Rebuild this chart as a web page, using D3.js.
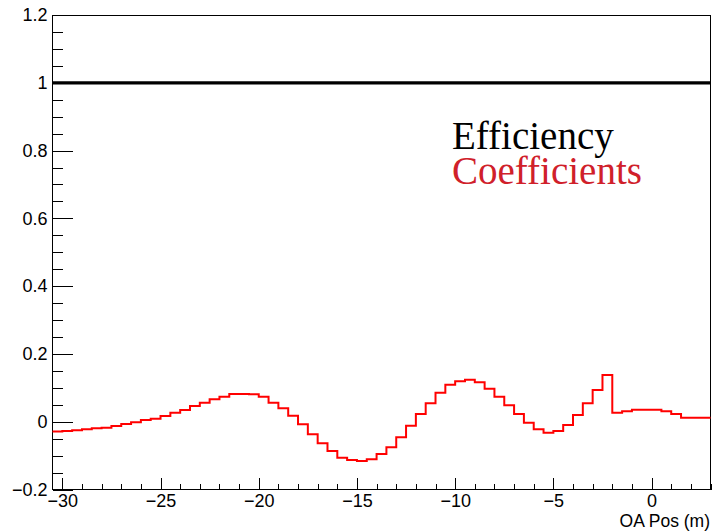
<!DOCTYPE html>
<html>
<head>
<meta charset="utf-8">
<script src="https://cdn.jsdelivr.net/npm/d3@7"></script>
<style>
  html, body { margin: 0; padding: 0; background: #fff; }
  svg { display: block; }
  .tick text { font-family: "Liberation Sans", Arial, sans-serif; font-size: 18px; fill: #000; }
</style>
</head>
<body>
<svg id="chart" width="712" height="531"></svg>
<script>
// ---- data ----
const binLow = -30.5;
const binWidth = 0.5;
const coefficients = [
  -0.029, -0.0275, -0.0255, -0.0225, -0.0196, -0.0176, -0.0127, -0.0068, -0.0019, 0.005,
  0.0089, 0.0168, 0.0266, 0.0345, 0.0463, 0.0561, 0.066, 0.0738, 0.0817, 0.0817,
  0.081, 0.0738, 0.0561, 0.0394, 0.0178, -0.0078, -0.0373, -0.0638, -0.0864, -0.106,
  -0.113, -0.116, -0.111, -0.0953, -0.0756, -0.0461, -0.0117, 0.0227, 0.0542, 0.0856,
  0.1092, 0.1191, 0.124, 0.1161, 0.0974, 0.0738, 0.0483, 0.0227, -0.0029, -0.0225,
  -0.0324, -0.0274, -0.0097, 0.0198, 0.0542, 0.0935, 0.1378, 0.0266, 0.0306, 0.0355,
  0.0355, 0.0355, 0.0306, 0.0227, 0.0119, 0.0119, 0.0119
];
const efficiency = coefficients.map(() => 1.0);
const xMajorTicks = [-30, -25, -20, -15, -10, -5, 0];
const xTickLabels = ["\u221230", "\u221225", "\u221220", "\u221215", "\u221210", "\u22125", "0"];
const yMajorTicks = [-0.2, 0, 0.2, 0.4, 0.6, 0.8, 1, 1.2];
const yTickLabels = ["\u22120.2", "0", "0.2", "0.4", "0.6", "0.8", "1", "1.2"];
const xTitle = "OA Pos (m)";
const legendLabels = ["Efficiency", "Coefficients"];

// ---- layout ----
const svg = d3.select("#chart");
const L = 52.5, R = 710.5, T = 15, B = 489.5;
const x = d3.scaleLinear().domain([-30.5, 3]).range([L, R]);
const y = d3.scaleLinear().domain([-0.2, 1.2]).range([B, T]);

// step path helper
function stepPath(vals) {
  const pts = [];
  vals.forEach((v, i) => {
    const x0 = binLow + i * binWidth, x1 = x0 + binWidth;
    pts.push([x(x0), y(v)], [x(x1), y(v)]);
  });
  return d3.line()(pts);
}

// frame
svg.append("rect")
  .attr("x", L).attr("y", T).attr("width", R - L).attr("height", B - T)
  .attr("fill", "none").attr("stroke", "#000").attr("stroke-width", 1)
  .attr("shape-rendering", "crispEdges");

// y axis
const yMinor = d3.range(-0.2, 1.2001, 0.05).map(v => +v.toFixed(2));
svg.append("g").attr("transform", `translate(${L},0)`)
  .call(d3.axisLeft(y).tickValues(yMinor).tickSize(-10).tickFormat(""))
  .call(g => g.select(".domain").remove())
  .call(g => g.selectAll("line").attr("stroke", "#000").attr("shape-rendering", "crispEdges"));
svg.append("g").attr("transform", `translate(${L},0)`)
  .call(d3.axisLeft(y).tickValues(yMajorTicks).tickSize(-20).tickPadding(5)
    .tickFormat((d, i) => yTickLabels[i]))
  .call(g => g.select(".domain").remove())
  .call(g => g.selectAll("line").attr("stroke", "#000").attr("shape-rendering", "crispEdges"));

// x axis
const xMinor = d3.range(-30, 3.001, 1);
svg.append("g").attr("transform", `translate(0,${B})`)
  .call(d3.axisBottom(x).tickValues(xMinor).tickSize(-6).tickFormat(""))
  .call(g => g.select(".domain").remove())
  .call(g => g.selectAll("line").attr("stroke", "#000").attr("shape-rendering", "crispEdges"));
svg.append("g").attr("transform", `translate(0,${B})`)
  .call(d3.axisBottom(x).tickValues(xMajorTicks).tickSize(-12).tickPadding(5)
    .tickFormat((d, i) => xTickLabels[i]))
  .call(g => g.select(".domain").remove())
  .call(g => g.selectAll("line").attr("stroke", "#000").attr("shape-rendering", "crispEdges"));

// x title
svg.append("text")
  .attr("x", 710).attr("y", 527)
  .attr("text-anchor", "end")
  .attr("font-family", "Liberation Sans, Arial, sans-serif")
  .attr("font-size", 17.5)
  .text(xTitle);

// efficiency (black)
svg.append("path")
  .attr("d", stepPath(efficiency))
  .attr("fill", "none").attr("stroke", "#000").attr("stroke-width", 3.3);

// coefficients (red)
svg.append("path")
  .attr("d", stepPath(coefficients))
  .attr("fill", "none").attr("stroke", "#ff0000").attr("stroke-width", 2);

// legend text
svg.append("text")
  .attr("x", 452).attr("y", 149)
  .attr("font-family", "Liberation Serif, Times New Roman, serif")
  .attr("font-size", 39).attr("fill", "#000")
  .text(legendLabels[0]);
svg.append("text")
  .attr("x", 452).attr("y", 184)
  .attr("font-family", "Liberation Serif, Times New Roman, serif")
  .attr("font-size", 39).attr("fill", "#d0202a")
  .text(legendLabels[1]);
</script>
</body>
</html>
